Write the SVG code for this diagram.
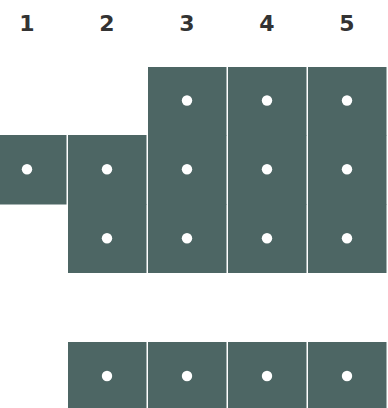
<svg xmlns="http://www.w3.org/2000/svg" width="388" height="408" viewBox="0 0 388 408">
<style>
.h{font-family:"DejaVu Sans",sans-serif;font-weight:bold;font-size:22px;fill:#333;text-anchor:middle}
.c{fill:#4d6664}
.d{fill:#fff}
</style>
<rect width="388" height="408" fill="#fff"/>
<g id="headers">
<text class="h" x="27" y="31">1</text>
<text class="h" x="107" y="31">2</text>
<text class="h" x="187" y="31">3</text>
<text class="h" x="267" y="31">4</text>
<text class="h" x="347" y="31">5</text>
</g>
<g id="connectors"></g>
<g id="c3r1"><rect class="c" x="148" y="67" width="78.5" height="68.5"/><circle class="d" cx="187" cy="100.5" r="5.2"/></g>
<g id="c4r1"><rect class="c" x="228" y="67" width="78.5" height="68.5"/><circle class="d" cx="267" cy="100.5" r="5.2"/></g>
<g id="c5r1"><rect class="c" x="308" y="67" width="78.5" height="68.5"/><circle class="d" cx="347" cy="100.5" r="5.2"/></g>
<g id="c1r2"><rect class="c" x="-12" y="135" width="78.5" height="69.5"/><circle class="d" cx="27" cy="169.3" r="5.2"/></g>
<g id="c2r2"><rect class="c" x="68" y="135" width="78.5" height="69.5"/><circle class="d" cx="107" cy="169.3" r="5.2"/></g>
<g id="c3r2"><rect class="c" x="148" y="135" width="78.5" height="69.5"/><circle class="d" cx="187" cy="169.3" r="5.2"/></g>
<g id="c4r2"><rect class="c" x="228" y="135" width="78.5" height="69.5"/><circle class="d" cx="267" cy="169.3" r="5.2"/></g>
<g id="c5r2"><rect class="c" x="308" y="135" width="78.5" height="69.5"/><circle class="d" cx="347" cy="169.3" r="5.2"/></g>
<g id="c2r3"><rect class="c" x="68" y="204" width="78.5" height="69"/><circle class="d" cx="107" cy="238.3" r="5.2"/></g>
<g id="c3r3"><rect class="c" x="148" y="204" width="78.5" height="69"/><circle class="d" cx="187" cy="238.3" r="5.2"/></g>
<g id="c4r3"><rect class="c" x="228" y="204" width="78.5" height="69"/><circle class="d" cx="267" cy="238.3" r="5.2"/></g>
<g id="c5r3"><rect class="c" x="308" y="204" width="78.5" height="69"/><circle class="d" cx="347" cy="238.3" r="5.2"/></g>
<g id="c2r4"><rect class="c" x="68" y="342" width="78.5" height="68"/><circle class="d" cx="107" cy="376" r="5.2"/></g>
<g id="c3r4"><rect class="c" x="148" y="342" width="78.5" height="68"/><circle class="d" cx="187" cy="376" r="5.2"/></g>
<g id="c4r4"><rect class="c" x="228" y="342" width="78.5" height="68"/><circle class="d" cx="267" cy="376" r="5.2"/></g>
<g id="c5r4"><rect class="c" x="308" y="342" width="78.5" height="68"/><circle class="d" cx="347" cy="376" r="5.2"/></g>
</svg>
